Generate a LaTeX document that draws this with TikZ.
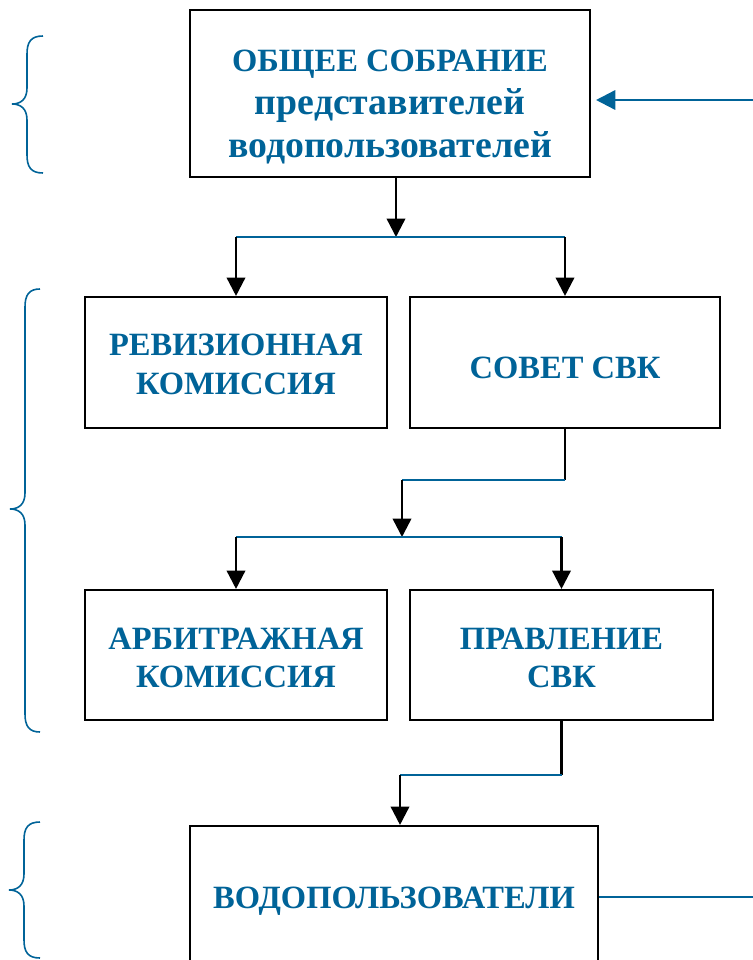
\documentclass[tikz,border=0pt]{standalone}
\usepackage{fontspec}
\setmainfont{Liberation Serif}
\usetikzlibrary{arrows.meta}

\definecolor{svkblue}{RGB}{0,99,152}

% left curly brace: x of ends, x of tip, top, tip, bottom
\newcommand\lcurly[5]{%
  \draw[brace line] (#1,#3) .. controls (#2+19,#3) and (#2+15,#3+6) .. (#2+15,#3+18)
    -- (#2+15,#4-16) .. controls (#2+15,#4-4) and (#2+8,#4) .. (#2,#4)
    .. controls (#2+8,#4) and (#2+15,#4+4) .. (#2+15,#4+16)
    -- (#2+15,#5-18) .. controls (#2+15,#5-6) and (#2+19,#5) .. (#1,#5);
}
\newcommand\smallcase{\fontsize{21.5}{24.5}\selectfont}

\tikzset{
  unit/.style={draw=black, line width=1.2pt, inner sep=0pt},
  caption/.style={align=center, text=svkblue, inner sep=0pt,
    font=\fontsize{18.5}{22}\selectfont\bfseries},
  down/.style={-{Triangle[length=10.5pt,width=10.5pt]}, line width=1.4pt},
  link/.style={line width=1.4pt},
  bus/.style={draw=svkblue, line width=1.4pt},
  brace line/.style={svkblue, line width=0.9pt},
}

\begin{document}
\begin{tikzpicture}[x=0.02cm, y=-0.02cm]
  \useasboundingbox (0,0) rectangle (753,960);

  % boxes
  \node[unit, minimum width=8cm, minimum height=3.34cm] (meeting) at (390,93.5) {};
  \node[unit, minimum width=6.04cm, minimum height=2.62cm] (audit) at (236,362.5) {};
  \node[unit, minimum width=6.2cm, minimum height=2.62cm] (council) at (565,362.5) {};
  \node[unit, minimum width=6.04cm, minimum height=2.6cm] (arbitr) at (236,655) {};
  \node[unit, minimum width=6.06cm, minimum height=2.6cm] (board) at (561.5,655) {};
  \node[unit, minimum width=8.16cm, minimum height=2.84cm] (users) at (394,897) {};

  % texts
  \node[caption, font=\fontsize{18.5}{24.5}\selectfont\bfseries] (meeting text)
    at ([yshift=-0.27cm]meeting.center)
    {ОБЩЕЕ СОБРАНИЕ\\{\smallcase представителей}\\{\smallcase водопользователей}};
  \node[caption] (audit text) at ([yshift=-0.04cm]audit.center) {РЕВИЗИОННАЯ\\КОМИССИЯ};
  \node[caption] (council text) at ([yshift=-0.1cm]council.center) {СОВЕТ СВК};
  \node[caption] (arbitr text) at ([yshift=-0.06cm]arbitr.center) {АРБИТРАЖНАЯ\\КОМИССИЯ};
  \node[caption] (board text) at ([yshift=-0.06cm]board.center) {ПРАВЛЕНИЕ\\СВК};
  \node[caption] (users text) at ([yshift=-0.08cm]users.center) {ВОДОПОЛЬЗОВАТЕЛИ};

  % connection points
  \coordinate (bus1) at (396,237);
  \coordinate (bus2) at (402,480);
  \coordinate (bus3) at (402,537);
  \coordinate (bus4) at (400,775);
  \coordinate (inR) at (753,100);
  \coordinate (outR) at (753,897);

  % meeting -> audit, council
  \draw[down] (meeting.south -| bus1) -- (bus1);
  \draw[bus] (audit.north |- bus1) -- (council.north |- bus1);
  \draw[down] (audit.north |- bus1) -- (audit.north);
  \draw[down] (council.north |- bus1) -- (council.north);

  % council -> arbitr, board
  \draw[link] (council.south) -- (council.south |- bus2);
  \draw[bus] (council.south |- bus2) -- (bus2);
  \draw[down] (bus2) -- (bus3);
  \draw[bus] (arbitr.north |- bus3) -- (board.north |- bus3);
  \draw[down] (arbitr.north |- bus3) -- (arbitr.north);
  \draw[down] (board.north |- bus3) -- (board.north);

  % board -> users
  \draw[link] (board.south) -- (board.south |- bus4);
  \draw[bus] (board.south |- bus4) -- (bus4);
  \draw[down] (bus4) -- (users.north -| bus4);

  % feedback lines
  \draw[bus, -{Triangle[length=11pt,width=11pt]}] (inR) -- ([xshift=0.1cm]meeting.east |- inR);
  \draw[bus] (users.east) -- (outR);

  % braces
  \lcurly{43}{12}{36}{104}{173}
  \lcurly{40}{10}{289}{509}{732}
  \lcurly{40}{9}{822}{890}{958}
\end{tikzpicture}
\end{document}
